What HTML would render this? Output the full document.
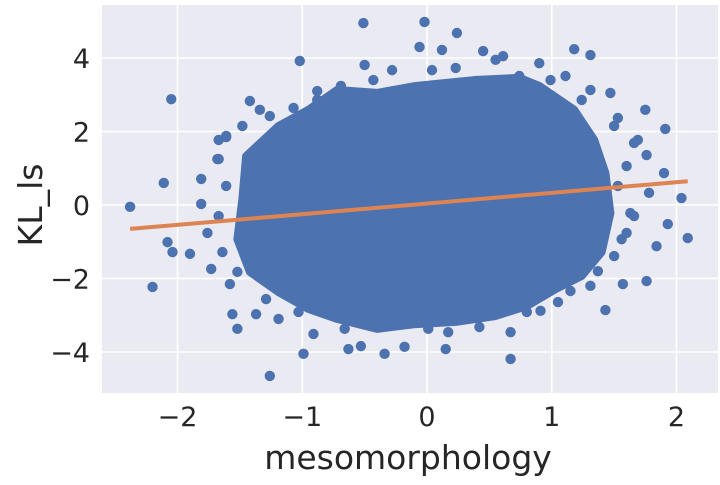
<!DOCTYPE html>
<html><head><meta charset="utf-8"><style>
body{margin:0;background:#fff;}
svg text{font-family:"DejaVu Sans","Liberation Sans",sans-serif;fill:#262626;}
</style></head><body>
<svg id="chart" width="720" height="480">
<rect x="102" y="5" width="616" height="388" fill="#eaeaf2"/>
<g id="grid"></g><g id="core"></g><g id="pts"></g><g id="reg"></g><g id="ticks"></g>
<text x="408" y="469" font-size="33" text-anchor="middle">mesomorphology</text>
<text transform="translate(42,205) rotate(-90)" font-size="33" text-anchor="middle">KL_ls</text>
</svg>
<script>
const xTicks=[-2,-1,0,1,2];
const yTicks=[-4,-2,0,2,4];
const regSlope=0.29, regIntercept=0.04, regXMin=-2.38, regXMax=2.09;
const coreX=[-1.48,-1.45,-1.19,-0.95,-0.72,-0.40,-0.09,0.38,0.74,0.90,1.18,1.34,1.43,1.47,1.40,1.24,1.03,0.80,0.55,0.23,-0.09,-0.40,-0.72,-0.95,-1.19,-1.42,-1.52];
const coreY=[0.16,1.33,2.15,2.59,3.13,3.05,3.24,3.40,3.46,3.24,2.59,1.77,0.87,-0.22,-1.28,-1.93,-2.29,-2.75,-3.02,-3.18,-3.24,-3.37,-3.10,-2.83,-2.37,-1.82,-0.93];
const ptX=[-2.38,-2.05,-2.11,-2.20,-2.08,-2.04,-1.90,-1.42,-1.02,-1.26,-0.99,-0.51,-0.02,0.24,0.67,1.18,1.31,1.91,1.75,2.09,2.04,1.93,1.43,-1.52,-1.56,-0.63,-0.53,-0.34,0.15,-0.06,0.12,1.76,1.57,1.84,1.90,1.76,-0.91,-1.81,-1.61,-1.68,
 -1.61,-1.67,-1.81,-1.76,-1.73,-1.58,-1.37,-1.19,-1.07,-0.88,-0.50,-0.28,0.23,0.45,0.61,0.90,1.11,1.31,1.47,1.53,1.66,1.53,1.63,1.60,1.50,1.37,1.15,0.91,0.67,0.42,0.17,-0.18,
 -1.67,-1.48,-1.34,-1.26,-0.88,-0.69,-0.43,-0.18,0.04,0.55,0.74,0.99,1.24,1.50,1.69,1.60,1.78,1.66,1.56,1.31,1.05,0.80,0.01,-0.66,-1.03,-1.29,-1.52,-1.64,-1.67,-1.61];
const ptY=[-0.05,2.88,0.60,-2.23,-1.01,-1.28,-1.33,2.83,3.92,-4.65,-4.05,4.95,4.98,4.68,-4.19,4.24,4.08,2.07,2.59,-0.90,0.19,-0.52,-2.86,-3.37,-2.97,-3.92,-3.84,-4.05,-3.92,4.30,4.22,-2.07,-2.15,-1.12,0.87,1.36,-3.51,0.71,1.85,1.25,
 1.88,1.25,0.03,-0.76,-1.74,-2.15,-2.97,-3.10,2.64,3.10,3.81,3.67,3.73,4.19,4.05,3.86,3.51,3.13,3.05,2.37,1.69,0.52,-0.22,-0.76,-1.39,-1.80,-2.34,-2.88,-3.46,-3.32,-3.46,-3.86,
 1.77,2.15,2.59,2.42,2.86,3.24,3.40,3.13,3.67,3.95,3.51,3.40,2.86,2.15,1.77,1.06,0.33,-0.30,-0.93,-2.20,-2.64,-2.91,-3.37,-3.37,-2.91,-2.56,-1.82,-1.28,-0.30,0.52];
const NS="http://www.w3.org/2000/svg";
const sx=v=>427+v*124.75, sy=v=>205-v*36.75;
function mk(t,a,p){const e=document.createElementNS(NS,t);for(const k in a)e.setAttribute(k,a[k]);p.appendChild(e);return e;}
const grid=document.getElementById('grid'),ticks=document.getElementById('ticks');
xTicks.forEach(t=>{
 const l=mk('line',{x1:sx(t),x2:sx(t),y1:5,y2:393,stroke:'#fff','stroke-width':1.6},grid);
 
 
 const tx=mk('text',{x:sx(t),y:426,'font-size':27,'text-anchor':'middle'},ticks);
 tx.textContent=(t<0?'\u2212':'')+Math.abs(t);
 
 
});
yTicks.forEach(t=>{
 const l=mk('line',{x1:102,x2:718,y1:sy(t),y2:sy(t),stroke:'#fff','stroke-width':1.6},grid);
 
 
 const tx=mk('text',{x:90,y:sy(t)+10,'font-size':27,'text-anchor':'end'},ticks);
 tx.textContent=(t<0?'\u2212':'')+Math.abs(t);
 
 
});
const core=mk('polygon',{points:coreX.map((x,i)=>sx(x)+','+sy(coreY[i])).join(' '),fill:'#4c72b0',stroke:'#4c72b0','stroke-width':8,'stroke-linejoin':'round'},document.getElementById('core'));


const pts=document.getElementById('pts');
ptX.forEach((x,i)=>{
 const c=mk('circle',{cx:sx(x),cy:sy(ptY[i]),r:5.2,fill:'#4c72b0'},pts);
 
 
});
const rl=mk('line',{x1:sx(regXMin),y1:sy(regIntercept+regSlope*regXMin),x2:sx(regXMax),y2:sy(regIntercept+regSlope*regXMax),stroke:'#dd8452','stroke-width':4},document.getElementById('reg'));


</script>
</body></html>
